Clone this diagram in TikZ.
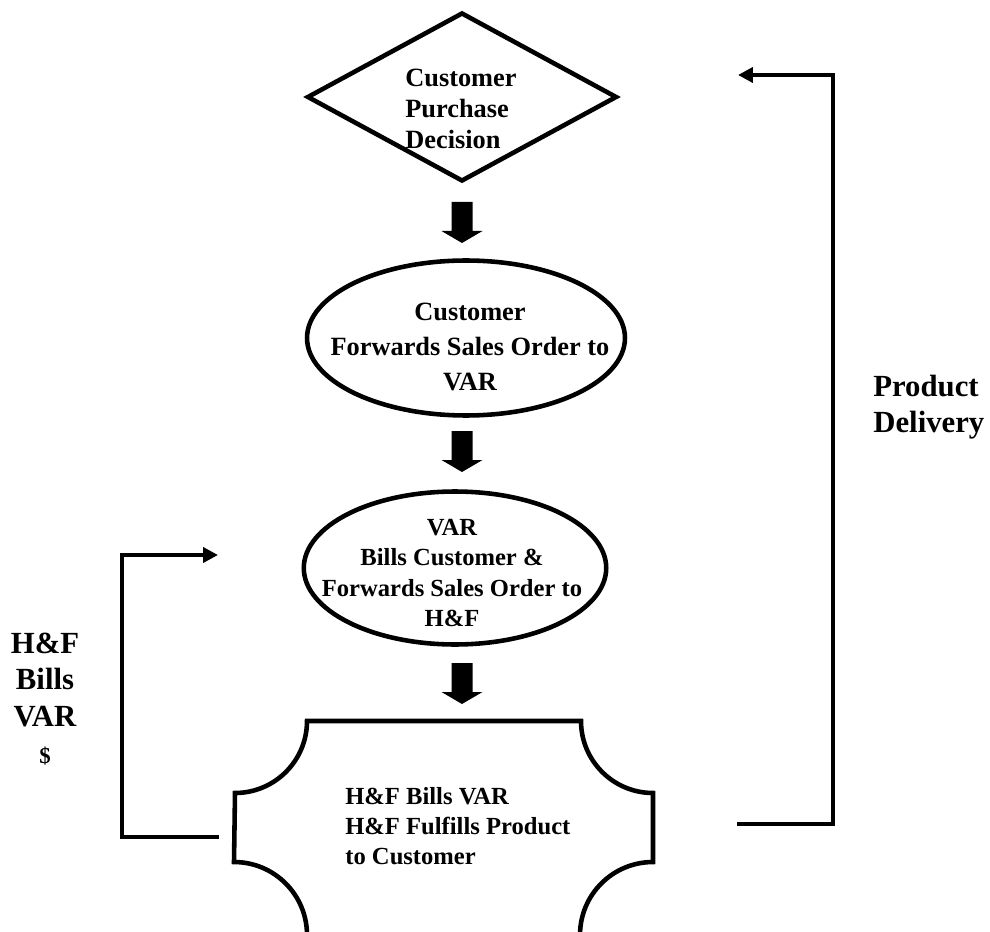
\documentclass[tikz,border=0pt]{standalone}
\usepackage{fontspec}
\setmainfont{Liberation Serif}
\usetikzlibrary{arrows.meta,shapes.geometric}

\begin{document}
\begin{tikzpicture}[
  x=0.02cm, y=0.02cm,
  font=\bfseries\fontsize{14}{17.4}\selectfont,
  box/.style={draw=black, line width=2.6pt, inner sep=0pt},
  txt/.style={align=center, inner sep=0pt},
  lbl/.style={txt, font=\bfseries\fontsize{17.5}{20.4}\selectfont},
  link/.style={line width=2.8pt, -{Triangle[length=8.5pt,width=8.5pt]}},
]
\useasboundingbox (0,0) rectangle (990,-932);

% ---- block arrow macro: #1 x #2 top y ----
\newcommand{\blk}[2]{%
  \fill (#1-10.5,#2) -- (#1+10.5,#2) -- (#1+10.5,#2-29) -- (#1+20.5,#2-29)
    -- (#1,#2-41) -- (#1-20.5,#2-29) -- (#1-10.5,#2-29) -- cycle;%
}

% ---- shapes ----
\node[box, diamond, minimum width=6.2cm, minimum height=3.38cm] (dec) at (462,-97) {};
\node[box, ellipse, minimum width=6.36cm, minimum height=3.1cm] (fwd) at (466,-338) {};
\node[box, ellipse, minimum width=6.05cm, minimum height=3.06cm] (bill) at (455,-568) {};
% plaque with concave corners, cut by the page bottom
\draw[box] (307,-721) -- (581,-721) arc[start angle=180, end angle=270, radius=72]
  -- (653,-862) arc[start angle=90, end angle=180, radius=73]
  -- (307,-935) arc[start angle=0, end angle=90, radius=73]
  -- (235,-793) arc[start angle=270, end angle=360, radius=72] -- cycle;

% ---- texts ----
\node[txt, anchor=west, align=left, font=\bfseries\fontsize{15}{17.6}\selectfont] (dec-txt) at (405,-109)
  {Customer\\Purchase\\Decision};
\node[txt, font=\bfseries\fontsize{15}{19.8}\selectfont] (fwd-txt) at (470,-347)
  {Customer\\Forwards Sales Order to\\VAR};
\node[txt] (bill-txt) at (452,-573)
  {VAR\\Bills Customer \&\\Forwards Sales Order to\\H\&F};
\node[txt, anchor=west, align=left, font=\bfseries\fontsize{14}{17}\selectfont] (ful-txt) at (345,-826)
  {H\&F Bills VAR\\H\&F Fulfills Product\\to Customer};

% ---- block arrows ----
\blk{462}{-202}
\blk{462}{-431}
\blk{462}{-663}

% ---- loops ----
\coordinate (pd-s) at (737,-824);
\coordinate (pd-e) at (738,-75);
\draw[link] (pd-s) -- ++(96,0) |- (pd-e);
\node[lbl, anchor=west, align=left] (pd) at (873,-407) {Product\\Delivery};

\coordinate (hb-s) at (219,-837);
\coordinate (hb-e) at (218,-555);
\draw[link] (hb-s) -- ++(-97,0) |- (hb-e);
\node[lbl, font=\bfseries\fontsize{17.5}{21}\selectfont] (hb) at (45,-699)
  {H\&F\\Bills\\VAR\\{\fontsize{13}{18}\selectfont\$}};

\end{tikzpicture}
\end{document}
